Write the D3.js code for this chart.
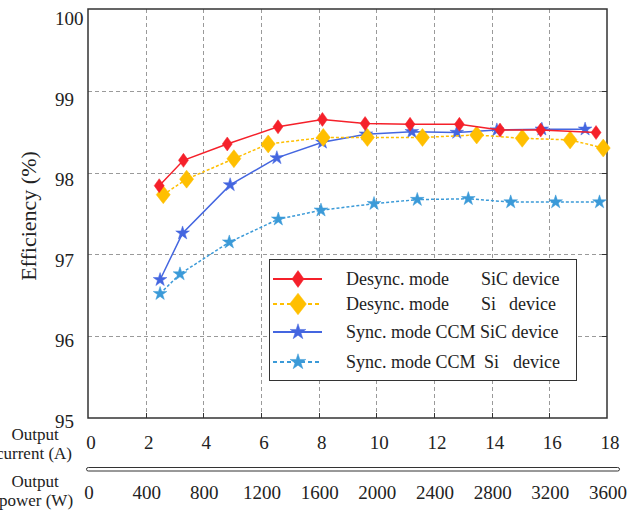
<!DOCTYPE html>
<html>
<head>
<meta charset="utf-8">
<script src="https://cdn.jsdelivr.net/npm/d3@7/dist/d3.min.js"></script>
<style>
    body { margin: 0; background: white; }
    text { font-family: "Liberation Serif", "Times New Roman", serif; fill: #222; }
</style>
</head>
<body>
<div id="chart"></div>
<script>
    // ---- data ----
    var desyncSiC_x = [2.47, 3.31, 4.83, 6.59, 8.13, 9.61, 11.17, 12.88, 14.29, 15.70, 17.62];
    var desyncSiC_y = [97.84, 98.15, 98.35, 98.56, 98.65, 98.60, 98.59, 98.59, 98.52, 98.52, 98.49];
    var desyncSi_x = [2.61, 3.42, 5.06, 6.25, 8.16, 9.69, 11.60, 13.48, 15.06, 16.72, 17.87];
    var desyncSi_y = [97.73, 97.92, 98.17, 98.35, 98.43, 98.43, 98.43, 98.46, 98.42, 98.40, 98.30];
    var syncSiC_x = [2.50, 3.28, 4.93, 6.55, 8.13, 9.64, 11.23, 12.79, 14.18, 15.74, 17.24];
    var syncSiC_y = [96.69, 97.26, 97.85, 98.18, 98.37, 98.47, 98.50, 98.49, 98.52, 98.53, 98.53];
    var syncSi_x = [2.50, 3.19, 4.90, 6.60, 8.08, 9.92, 11.42, 13.19, 14.66, 16.22, 17.74];
    var syncSi_y = [96.52, 96.76, 97.15, 97.43, 97.54, 97.62, 97.67, 97.68, 97.64, 97.64, 97.64];

    var currentTicks = [0, 2, 4, 6, 8, 10, 12, 14, 16, 18];
    var powerTicks = [0, 400, 800, 1200, 1600, 2000, 2400, 2800, 3200, 3600];
    var effTicks = [95, 96, 97, 98, 99, 100];

    var series = [
        {name: ["Sync. mode CCM", "Si", "device"], xs: syncSi_x, ys: syncSi_y, color: "#3b9ad8", dash: "3,2", marker: "star", size: 58},
        {name: ["Sync. mode CCM SiC device"], xs: syncSiC_x, ys: syncSiC_y, color: "#4466e0", dash: null, marker: "star", size: 58},
        {name: ["Desync. mode", "Si", "device"], xs: desyncSi_x, ys: desyncSi_y, color: "#ffbf00", dash: "3,2", marker: "diamond", w: 14, h: 18},
        {name: ["Desync. mode", "SiC device"], xs: desyncSiC_x, ys: desyncSiC_y, color: "#f5202a", dash: null, marker: "diamond", w: 10, h: 14}
    ];
    // legend order (top to bottom) and x of each text piece
    var legendOrder = [3, 2, 1, 0];
    var legendNameX = [[346, 481], [346, 481, 509], [346], [346, 484, 513]];

    // ---- layout ----
    var W = 638, H = 512;
    var mLeft = 88, mRight = 607, mTop = 9, mBottom = 418;

    var svg = d3.select("#chart").append("svg").attr("width", W).attr("height", H);

    var x = d3.scaleLinear().domain([0, 18]).range([mLeft, mRight]);
    var xp = d3.scaleLinear().domain([0, 3600]).range([mLeft, mRight]);
    var y = d3.scaleLinear().domain([95, 100]).range([mBottom, mTop]);
    // tick labels sit a little below their grid lines
    var yLab = d3.scaleLinear().domain([95, 100]).range([421, 18.5]);

    // grid
    var grid = svg.append("g").attr("stroke", "#9a9a9a").attr("stroke-width", 1).attr("stroke-dasharray", "4,3");
    grid.selectAll(".vg").data(currentTicks.slice(1, -1)).enter().append("line")
        .attr("x1", d => Math.round(x(d)) + 0.5).attr("x2", d => Math.round(x(d)) + 0.5)
        .attr("y1", mTop).attr("y2", mBottom);
    grid.selectAll(".hg").data(effTicks.slice(1, -1)).enter().append("line")
        .attr("y1", d => Math.round(y(d)) + 0.5).attr("y2", d => Math.round(y(d)) + 0.5)
        .attr("x1", mLeft).attr("x2", mRight);

    // inner ticks on right and bottom
    var tk = svg.append("g").attr("stroke", "#333").attr("stroke-width", 1);
    tk.selectAll(".rt").data(effTicks.slice(1, -1)).enter().append("line")
        .attr("x1", mRight - 5).attr("x2", mRight)
        .attr("y1", d => Math.round(y(d)) + 0.5).attr("y2", d => Math.round(y(d)) + 0.5);
    tk.selectAll(".bt").data(currentTicks.slice(1, -1)).enter().append("line")
        .attr("y1", mBottom - 5).attr("y2", mBottom)
        .attr("x1", d => Math.round(x(d)) + 0.5).attr("x2", d => Math.round(x(d)) + 0.5);

    // frame
    svg.append("rect").attr("x", mLeft).attr("y", mTop)
        .attr("width", mRight - mLeft).attr("height", mBottom - mTop)
        .attr("fill", "none").attr("stroke", "#333").attr("stroke-width", 1.5);

    // y labels
    svg.selectAll(".yl").data(effTicks).enter().append("text")
        .attr("x", 55).attr("y", d => yLab(d))
        .attr("dy", "0.35em").attr("font-size", 19)
        .text(d => d);

    svg.append("text")
        .attr("transform", "translate(36," + 216 + ") rotate(-90)")
        .attr("text-anchor", "middle").attr("font-size", 22)
        .text("Efficiency (%)");

    // current axis labels
    svg.selectAll(".xl").data(currentTicks).enter().append("text")
        .attr("x", d => x(d) + 3).attr("y", 442).attr("dy", "0.35em")
        .attr("text-anchor", "middle").attr("font-size", 19)
        .text(d => d);
    svg.append("text").attr("x", 35).attr("y", 440).attr("text-anchor", "middle").attr("font-size", 17).text("Output");
    svg.append("text").attr("x", 34).attr("y", 459).attr("text-anchor", "middle").attr("font-size", 17).text("current (A)");

    // double separator line
    svg.append("rect").attr("x", 86.5).attr("y", 467.5).attr("width", 533).attr("height", 3.5)
        .attr("rx", 1.8).attr("fill", "white").attr("stroke", "#333").attr("stroke-width", 1);

    // power axis labels
    svg.selectAll(".pl").data(powerTicks).enter().append("text")
        .attr("x", d => xp(d) + 1).attr("y", 492).attr("dy", "0.35em")
        .attr("text-anchor", "middle").attr("font-size", 19)
        .text(d => d);
    svg.append("text").attr("x", 35).attr("y", 487).attr("text-anchor", "middle").attr("font-size", 17).text("Output");
    svg.append("text").attr("x", 36).attr("y", 506).attr("text-anchor", "middle").attr("font-size", 17).text("power (W)");

    function diamondPath(w, h) {
        return "M0," + (-h / 2) + "L" + (w / 2) + ",0L0," + (h / 2) + "L" + (-w / 2) + ",0Z";
    }
    function markerPath(s, scale) {
        scale = scale || 1;
        if (s.marker === "diamond") return diamondPath(s.w * scale, s.h * scale);
        return d3.symbol().type(d3.symbolStar).size(s.size * scale * scale)();
    }

    // series
    var line = d3.line().x(d => x(d[0])).y(d => y(d[1]));
    series.forEach(function(s) {
        var pts = s.xs.map((v, i) => [v, s.ys[i]]);
        var g = svg.append("g");
        g.append("path").datum(pts).attr("d", line)
            .attr("fill", "none").attr("stroke", s.color).attr("stroke-width", 1.5)
            .attr("stroke-dasharray", s.dash);
        g.selectAll("path.m").data(pts).enter().append("path").attr("class", "m")
            .attr("d", markerPath(s))
            .attr("transform", d => "translate(" + x(d[0]) + "," + y(d[1]) + ")")
            .attr("fill", s.color).attr("stroke", s.color).attr("stroke-width", 0.5);
    });

    // legend
    var lg = svg.append("g");
    lg.append("rect").attr("x", 269.5).attr("y", 259.5).attr("width", 307).attr("height", 121)
        .attr("fill", "white").attr("stroke", "#333").attr("stroke-width", 1);
    var rowY = [279, 304, 332, 362];
    legendOrder.forEach(function(si, r) {
        var s = series[si];
        var yy = rowY[r];
        lg.append("line").attr("x1", 273).attr("x2", 322).attr("y1", yy).attr("y2", yy)
            .attr("stroke", s.color).attr("stroke-width", 2).attr("stroke-dasharray", s.dash ? "4,3" : null);
        lg.append("path").attr("d", markerPath(s, s.marker === "diamond" ? 1.2 : 1.15))
            .attr("transform", "translate(298," + yy + ")")
            .attr("fill", s.color).attr("stroke", s.color).attr("stroke-width", 0.5);
        s.name.forEach(function(t, k) {
            lg.append("text").attr("x", legendNameX[r][k]).attr("y", yy).attr("dy", "0.35em")
                .attr("font-size", 18)
                .text(t);
        });
    });
</script>
</body>
</html>
